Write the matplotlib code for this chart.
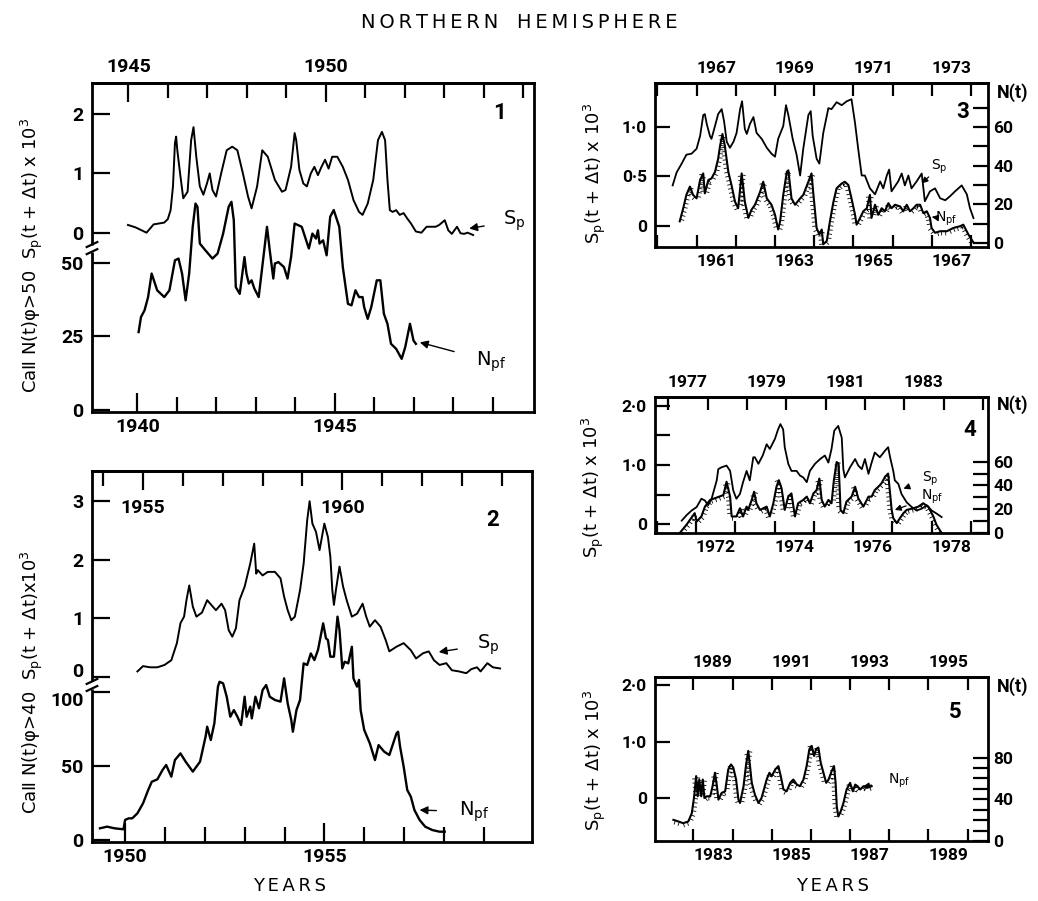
import matplotlib
matplotlib.use('Agg')
import matplotlib.pyplot as plt
import matplotlib.patheffects as pe
import matplotlib.transforms as mtrans

plt.rcParams['font.family'] = ['DejaVu Sans']
plt.rcParams['mathtext.default'] = 'regular'

# ---------------- data (year, value) ----------------
P1_SP = [(1939.76, 0.13), (1939.95, 0.09), (1940.23, 0.00), (1940.41, 0.14), (1940.68, 0.17), (1940.77, 0.23),
         (1940.84, 0.38), (1940.90, 0.78), (1940.95, 1.51), (1940.98, 1.62), (1941.01, 1.39), (1941.08, 1.00),
         (1941.16, 0.58), (1941.27, 0.69), (1941.36, 1.56), (1941.42, 1.78), (1941.49, 1.28), (1941.58, 0.78),
         (1941.67, 0.64), (1941.76, 0.83), (1941.83, 1.00), (1941.90, 0.72), (1941.99, 0.61), (1942.12, 1.00),
         (1942.26, 1.39), (1942.40, 1.45), (1942.53, 1.39), (1942.67, 1.00), (1942.80, 0.61), (1942.89, 0.41),
         (1943.03, 0.78), (1943.16, 1.39), (1943.30, 1.28), (1943.48, 0.89), (1943.66, 0.69), (1943.75, 0.72),
         (1943.89, 1.11), (1943.98, 1.68), (1944.02, 1.56), (1944.10, 1.06), (1944.20, 0.83), (1944.29, 0.78),
         (1944.39, 1.00), (1944.48, 1.11), (1944.57, 0.97), (1944.66, 1.11), (1944.75, 1.23), (1944.84, 1.08),
         (1944.93, 1.28), (1945.06, 1.28), (1945.20, 1.11), (1945.33, 0.89), (1945.47, 0.55), (1945.61, 0.35),
         (1945.70, 0.30), (1945.83, 0.49), (1945.97, 0.89), (1946.09, 1.56), (1946.19, 1.70), (1946.27, 1.56),
         (1946.33, 0.89), (1946.39, 0.38), (1946.46, 0.35), (1946.55, 0.38), (1946.64, 0.30), (1946.74, 0.33),
         (1946.83, 0.24), (1946.92, 0.16), (1947.05, 0.02), (1947.19, 0.00), (1947.32, 0.10), (1947.46, 0.10),
         (1947.55, 0.10), (1947.64, 0.13), (1947.78, 0.21), (1947.87, 0.04), (1947.96, -0.02), (1948.09, 0.10),
         (1948.18, -0.01), (1948.27, -0.02), (1948.36, 0.00), (1948.50, -0.04)]
P1_N = [(1940.03, 26.5), (1940.09, 31.6), (1940.18, 33.9), (1940.27, 38.4), (1940.36, 46.4), (1940.50, 40.7),
        (1940.68, 38.4), (1940.81, 40.7), (1940.95, 50.9), (1941.04, 51.5), (1941.13, 46.4), (1941.22, 37.3),
        (1941.31, 46.4), (1941.40, 62.3), (1941.47, 70.2), (1941.52, 69.1), (1941.58, 56.6), (1941.72, 54.3),
        (1941.90, 51.5), (1942.03, 53.2), (1942.17, 60.0), (1942.31, 69.1), (1942.38, 70.8), (1942.44, 64.5),
        (1942.49, 41.8), (1942.59, 39.5), (1942.71, 52.0), (1942.76, 46.4), (1942.82, 43.0), (1942.89, 44.1),
        (1942.96, 41.3), (1943.07, 38.4), (1943.16, 48.6), (1943.28, 62.3), (1943.35, 54.3), (1943.44, 44.7),
        (1943.48, 49.8), (1943.57, 50.3), (1943.71, 48.6), (1943.80, 44.7), (1943.89, 52.0), (1943.98, 63.4),
        (1944.16, 62.3), (1944.34, 54.9), (1944.43, 60.0), (1944.52, 58.3), (1944.57, 61.1), (1944.61, 56.6),
        (1944.70, 57.7), (1944.79, 52.6), (1944.88, 65.7), (1944.97, 68.0), (1945.11, 62.3), (1945.20, 48.6),
        (1945.33, 36.1), (1945.42, 35.6), (1945.52, 40.7), (1945.61, 38.4), (1945.70, 38.4), (1945.74, 35.0),
        (1945.83, 31.0), (1945.92, 35.0), (1946.06, 44.1), (1946.15, 44.1), (1946.24, 32.7), (1946.33, 29.3),
        (1946.42, 22.5), (1946.55, 20.8), (1946.69, 17.4), (1946.78, 21.4), (1946.90, 29.3), (1946.99, 23.6),
        (1947.05, 22.5)]

P2_SP = [(1950.31, 0.10), (1950.45, 0.19), (1950.63, 0.17), (1950.81, 0.17), (1950.99, 0.21), (1951.16, 0.29),
         (1951.30, 0.58), (1951.39, 0.92), (1951.48, 1.03), (1951.54, 1.31), (1951.61, 1.56), (1951.70, 1.20),
         (1951.79, 1.03), (1951.93, 1.10), (1952.06, 1.31), (1952.20, 1.20), (1952.28, 1.14), (1952.42, 1.25),
         (1952.51, 1.14), (1952.60, 0.80), (1952.69, 0.69), (1952.78, 0.83), (1952.87, 1.31), (1953.00, 1.54),
         (1953.14, 1.93), (1953.24, 2.27), (1953.29, 1.76), (1953.33, 1.82), (1953.45, 1.73), (1953.58, 1.79),
         (1953.76, 1.79), (1953.90, 1.68), (1953.99, 1.37), (1954.08, 1.14), (1954.17, 0.97), (1954.26, 1.03),
         (1954.39, 1.48), (1954.48, 1.93), (1954.57, 2.67), (1954.63, 2.99), (1954.70, 2.61), (1954.79, 2.47),
         (1954.88, 2.16), (1955.00, 2.61), (1955.09, 2.38), (1955.15, 2.05), (1955.20, 1.48), (1955.24, 1.23),
         (1955.29, 1.48), (1955.38, 1.88), (1955.47, 1.54), (1955.56, 1.31), (1955.69, 1.03), (1955.82, 1.08),
         (1955.96, 1.25), (1956.05, 1.03), (1956.14, 0.86), (1956.27, 0.97), (1956.41, 0.86), (1956.54, 0.63),
         (1956.63, 0.44), (1956.81, 0.52), (1956.99, 0.58), (1957.17, 0.46), (1957.30, 0.32), (1957.48, 0.41),
         (1957.62, 0.44), (1957.75, 0.29), (1957.89, 0.21), (1958.06, 0.24), (1958.20, 0.12), (1958.38, 0.10),
         (1958.56, 0.07), (1958.69, 0.14), (1958.83, 0.17), (1958.92, 0.10), (1959.09, 0.24), (1959.23, 0.17),
         (1959.41, 0.15)]
P2_N = [(1949.37, 7.9), (1949.55, 9.0), (1949.73, 7.9), (1949.96, 7.2), (1950.00, 13.5), (1950.09, 14.6),
        (1950.18, 14.6), (1950.31, 18.0), (1950.45, 24.7), (1950.58, 33.7), (1950.67, 39.3), (1950.81, 40.9),
        (1950.94, 47.2), (1951.03, 50.6), (1951.16, 42.7), (1951.25, 53.9), (1951.39, 58.4), (1951.52, 52.8),
        (1951.70, 46.1), (1951.88, 52.8), (1952.02, 69.7), (1952.06, 76.4), (1952.15, 67.4), (1952.24, 78.7),
        (1952.33, 103.4), (1952.37, 106.7), (1952.46, 105.6), (1952.55, 96.6), (1952.64, 83.1), (1952.73, 87.6),
        (1952.82, 83.1), (1952.91, 77.5), (1953.00, 96.6), (1953.05, 83.1), (1953.14, 89.9), (1953.18, 82.0),
        (1953.27, 96.6), (1953.36, 88.8), (1953.45, 101.1), (1953.54, 104.5), (1953.63, 96.6), (1953.76, 94.4),
        (1953.90, 93.3), (1953.99, 109.0), (1954.08, 92.1), (1954.17, 80.9), (1954.21, 73.0), (1954.30, 87.6),
        (1954.39, 94.4), (1954.48, 119.1), (1954.57, 118.0), (1954.66, 125.8), (1954.75, 121.3), (1954.84, 128.1),
        (1954.97, 146.1), (1955.04, 136.0), (1955.09, 134.8), (1955.15, 123.6), (1955.24, 123.6), (1955.33, 150.6),
        (1955.38, 141.6), (1955.45, 115.7), (1955.51, 120.2), (1955.60, 119.1), (1955.69, 130.3), (1955.73, 109.0),
        (1955.82, 103.4), (1955.87, 107.9), (1955.91, 87.6), (1956.00, 74.2), (1956.14, 65.2), (1956.27, 53.9),
        (1956.36, 64.0), (1956.50, 59.6), (1956.63, 57.3), (1956.81, 71.9), (1956.85, 73.0), (1956.90, 62.9),
        (1956.99, 49.4), (1957.08, 33.7), (1957.17, 29.2), (1957.26, 20.2), (1957.39, 13.5), (1957.53, 9.0),
        (1957.71, 6.7), (1957.89, 5.6), (1958.02, 5.6)]

P3_SP = [(1960.39, 0.41), (1960.49, 0.54), (1960.62, 0.63), (1960.74, 0.72), (1960.87, 0.73), (1961.00, 0.78),
         (1961.09, 0.91), (1961.17, 1.12), (1961.21, 1.13), (1961.26, 1.03), (1961.34, 0.91), (1961.38, 0.88),
         (1961.47, 1.01), (1961.55, 1.13), (1961.64, 1.18), (1961.70, 1.06), (1961.77, 0.85), (1961.85, 0.79),
         (1961.94, 0.85), (1962.02, 0.94), (1962.11, 1.18), (1962.16, 1.26), (1962.23, 0.98), (1962.28, 0.93),
         (1962.36, 1.03), (1962.45, 1.10), (1962.53, 0.94), (1962.66, 0.88), (1962.79, 0.79), (1962.91, 0.73),
         (1963.00, 0.70), (1963.08, 0.88), (1963.21, 1.01), (1963.28, 1.22), (1963.34, 1.12), (1963.45, 0.88),
         (1963.55, 0.72), (1963.64, 0.51), (1963.72, 0.78), (1963.85, 1.12), (1963.91, 1.16), (1963.96, 0.91),
         (1964.06, 0.68), (1964.13, 0.63), (1964.23, 0.94), (1964.36, 1.19), (1964.44, 1.18), (1964.57, 1.25),
         (1964.70, 1.22), (1964.83, 1.26), (1964.95, 1.28), (1965.04, 1.04), (1965.12, 0.78), (1965.21, 0.51),
         (1965.29, 0.51), (1965.42, 0.38), (1965.55, 0.32), (1965.68, 0.45), (1965.76, 0.38), (1965.85, 0.51),
         (1965.91, 0.57), (1965.97, 0.35), (1966.14, 0.45), (1966.23, 0.53), (1966.31, 0.41), (1966.40, 0.51),
         (1966.48, 0.38), (1966.61, 0.45), (1966.74, 0.53), (1966.82, 0.25), (1966.95, 0.35), (1967.08, 0.38),
         (1967.21, 0.28), (1967.34, 0.26), (1967.46, 0.30), (1967.59, 0.35), (1967.76, 0.41), (1967.89, 0.32),
         (1967.97, 0.18), (1968.06, 0.08)]
P3_N = [(1960.57, 11.2), (1960.66, 18.0), (1960.74, 24.9), (1960.83, 29.2), (1960.91, 24.9), (1961.00, 23.1),
        (1961.09, 32.6), (1961.17, 36.0), (1961.21, 25.7), (1961.30, 32.6), (1961.38, 33.4), (1961.47, 36.8),
        (1961.55, 43.6), (1961.60, 50.4), (1961.66, 56.4), (1961.72, 50.4), (1961.81, 36.8), (1961.89, 30.0),
        (1961.98, 21.4), (1962.06, 18.0), (1962.15, 36.0), (1962.23, 21.4), (1962.32, 13.0), (1962.40, 17.2),
        (1962.49, 19.8), (1962.62, 26.5), (1962.70, 31.7), (1962.79, 23.1), (1962.91, 19.8), (1963.00, 14.6),
        (1963.08, 7.0), (1963.13, 11.2), (1963.21, 24.9), (1963.30, 36.8), (1963.34, 37.6), (1963.42, 23.1),
        (1963.51, 19.8), (1963.64, 23.1), (1963.72, 24.9), (1963.85, 31.7), (1963.93, 36.0), (1963.98, 24.9),
        (1964.06, 7.8), (1964.13, 4.4), (1964.19, 7.0), (1964.23, -0.7), (1964.32, 1.1), (1964.40, 11.2),
        (1964.49, 21.4), (1964.57, 28.3), (1964.70, 30.8), (1964.78, 31.7), (1964.87, 30.0), (1964.95, 23.1),
        (1965.04, 14.6), (1965.08, 9.5), (1965.17, 13.0), (1965.25, 16.4), (1965.34, 18.0), (1965.42, 24.9),
        (1965.46, 13.0), (1965.55, 19.8), (1965.63, 14.6), (1965.72, 18.0), (1965.80, 16.4), (1965.89, 20.6),
        (1965.97, 18.0), (1966.06, 19.8), (1966.19, 18.9), (1966.27, 16.4), (1966.36, 19.8), (1966.44, 16.4),
        (1966.53, 18.0), (1966.61, 19.8), (1966.70, 19.8), (1966.78, 15.5), (1966.87, 16.4), (1966.95, 13.0),
        (1966.99, 7.8), (1967.08, 5.3), (1967.21, 6.1), (1967.38, 6.1), (1967.55, 7.8), (1967.72, 8.7),
        (1967.80, 9.5), (1967.93, 4.4), (1968.06, 0.2)]

P4_SP = [(1971.64, 0.06), (1971.76, 0.15), (1971.89, 0.23), (1972.02, 0.29), (1972.14, 0.43), (1972.23, 0.40),
         (1972.31, 0.32), (1972.40, 0.43), (1972.53, 0.74), (1972.57, 0.93), (1972.65, 0.96), (1972.78, 0.99),
         (1972.87, 0.90), (1972.95, 0.57), (1973.03, 0.43), (1973.12, 0.51), (1973.20, 0.71), (1973.29, 0.90),
         (1973.37, 0.74), (1973.46, 1.13), (1973.50, 1.13), (1973.59, 1.02), (1973.70, 1.16), (1973.80, 1.35),
         (1973.88, 1.27), (1974.01, 1.44), (1974.09, 1.60), (1974.15, 1.69), (1974.22, 1.60), (1974.26, 1.30),
         (1974.35, 1.02), (1974.43, 0.90), (1974.56, 0.90), (1974.65, 0.82), (1974.73, 0.79), (1974.82, 0.71),
         (1974.90, 0.90), (1975.03, 1.02), (1975.16, 1.10), (1975.28, 1.16), (1975.37, 1.04), (1975.45, 1.27),
         (1975.52, 1.58), (1975.62, 1.66), (1975.71, 1.46), (1975.75, 0.93), (1975.79, 0.79), (1975.92, 0.96),
         (1976.05, 1.10), (1976.13, 0.99), (1976.22, 0.93), (1976.30, 1.10), (1976.39, 0.85), (1976.47, 1.04),
         (1976.55, 1.21), (1976.68, 1.13), (1976.81, 1.24), (1976.89, 1.30), (1976.94, 1.13), (1977.02, 0.90),
         (1977.06, 0.74), (1977.15, 0.68), (1977.23, 0.51), (1977.36, 0.37), (1977.49, 0.29), (1977.61, 0.23),
         (1977.74, 0.26), (1977.87, 0.32), (1978.00, 0.23), (1978.12, 0.18), (1978.25, 0.12)]
P4_N = [(1971.59, 0.0), (1971.76, 6.9), (1971.97, 16.7), (1972.02, 9.7), (1972.14, 13.9), (1972.23, 22.2),
        (1972.36, 27.8), (1972.48, 29.2), (1972.70, 31.9), (1972.78, 43.1), (1972.87, 30.6), (1972.91, 13.9),
        (1972.95, 13.9), (1973.03, 13.9), (1973.12, 20.8), (1973.20, 13.9), (1973.29, 22.2), (1973.33, 19.4),
        (1973.42, 27.8), (1973.48, 34.7), (1973.54, 25.0), (1973.63, 19.4), (1973.80, 22.2), (1973.88, 13.9),
        (1973.97, 25.0), (1974.05, 38.9), (1974.11, 44.4), (1974.18, 37.5), (1974.26, 19.4), (1974.35, 30.6),
        (1974.43, 33.3), (1974.52, 13.9), (1974.60, 25.0), (1974.73, 27.8), (1974.82, 30.6), (1974.90, 25.0),
        (1974.99, 33.3), (1975.07, 36.1), (1975.14, 45.8), (1975.20, 27.8), (1975.28, 22.2), (1975.37, 27.8),
        (1975.45, 25.0), (1975.51, 44.4), (1975.58, 59.7), (1975.63, 58.3), (1975.68, 19.4), (1975.75, 16.7),
        (1975.83, 26.4), (1975.96, 30.6), (1976.05, 38.9), (1976.13, 29.2), (1976.26, 22.2), (1976.39, 30.6),
        (1976.47, 30.6), (1976.55, 36.1), (1976.64, 38.9), (1976.72, 41.7), (1976.81, 47.2), (1976.89, 50.0),
        (1976.98, 19.4), (1977.02, 12.5), (1977.11, 8.3), (1977.19, 12.5), (1977.28, 16.7), (1977.36, 19.4),
        (1977.53, 20.8), (1977.66, 22.2), (1977.78, 25.0), (1977.91, 22.2), (1978.04, 13.9), (1978.12, 6.9),
        (1978.25, 0.0)]

P5_N = [(1982.49, 20.3), (1982.62, 18.7), (1982.74, 17.1), (1982.87, 18.7), (1982.96, 26.8), (1983.02, 42.9),
        (1983.07, 62.3), (1983.11, 42.9), (1983.15, 59.0), (1983.20, 42.9), (1983.24, 59.0), (1983.28, 41.3),
        (1983.34, 42.9), (1983.43, 42.9), (1983.49, 52.6), (1983.55, 65.5), (1983.60, 52.6), (1983.64, 39.7),
        (1983.72, 46.1), (1983.81, 47.7), (1983.89, 68.7), (1983.96, 73.5), (1984.02, 70.3), (1984.09, 59.0),
        (1984.15, 39.7), (1984.19, 36.5), (1984.28, 52.6), (1984.34, 71.9), (1984.40, 86.5), (1984.45, 70.3),
        (1984.49, 55.8), (1984.57, 44.5), (1984.66, 36.5), (1984.74, 41.3), (1984.87, 59.0), (1984.94, 65.5),
        (1985.00, 62.3), (1985.09, 68.7), (1985.17, 71.9), (1985.23, 62.3), (1985.30, 49.4), (1985.38, 47.7),
        (1985.47, 55.8), (1985.55, 59.0), (1985.64, 54.2), (1985.72, 52.6), (1985.81, 59.0), (1985.89, 71.9),
        (1985.96, 88.1), (1986.02, 91.3), (1986.08, 81.6), (1986.13, 88.1), (1986.19, 89.7), (1986.25, 75.2),
        (1986.32, 65.5), (1986.39, 55.8), (1986.45, 59.0), (1986.53, 67.1), (1986.59, 71.9), (1986.63, 55.8),
        (1986.66, 33.2), (1986.70, 23.5), (1986.76, 28.4), (1986.83, 36.5), (1986.91, 49.4), (1987.00, 55.8),
        (1987.07, 47.7), (1987.13, 54.2), (1987.19, 52.6), (1987.26, 49.4), (1987.34, 52.6), (1987.43, 51.0),
        (1987.55, 52.6)]

# ---------------- layout helpers ----------------
W, H = 1038, 901
fig = plt.figure(figsize=(W / 100, H / 100), dpi=100)
NUMFONT = ['Roboto', 'DejaVu Sans']


def rect(l, r, t, b):
    return [l / W, 1 - b / H, (r - l) / W, (b - t) / H]


def ftext(x, y, s, **kw):
    fig.text(x / W, 1 - y / H, s, **kw)


def unzip(pairs):
    return [p[0] for p in pairs], [p[1] for p in pairs]


SPW = 2.0
TKW = 1.6


def make_axes(r, xlim, sp_lim, n_lim, n_side):
    ax = fig.add_axes(rect(*r))
    axn = ax.twinx()
    ax.set_xlim(*xlim)
    ax.set_ylim(*sp_lim)
    axn.set_ylim(*n_lim)
    for s in ax.spines.values():
        s.set_linewidth(SPW)
    for s in axn.spines.values():
        s.set_visible(False)
    axn.patch.set_visible(False)
    if n_side == 'left':
        axn.yaxis.set_ticks_position('left')
    return ax, axn


def top_axis(ax, off):
    return ax.secondary_xaxis('top', functions=(lambda x, o=off: x + o, lambda x, o=off: x - o))


def axis_break(ax, yb, dy):
    tr = mtrans.blended_transform_factory(ax.transAxes, ax.transData)
    ax.plot([0, 0], [yb - dy, yb + dy], transform=tr, color='white', lw=5, clip_on=False, zorder=10,
            solid_capstyle='butt')
    for s in (-1, 1):
        ax.plot([-0.012, 0.012], [yb + s * dy - dy * 0.7, yb + s * dy + dy * 0.7], transform=tr,
                color='black', lw=1.6, clip_on=False, zorder=11)


LBL = dict(fontweight='bold', fontsize=14, family=NUMFONT)
LBLR = dict(fontweight='bold', fontsize=12.5, family=NUMFONT)

# ---------------- Panel 1 ----------------
ax1, ax1n = make_axes((92, 534, 83, 412), (1938.85, 1950.04), (-3.024, 2.524), (-0.68, 111.2), 'left')
ax1.set_xticks([1940, 1945], labels=['1940', '1945'], **LBL)
ax1.set_xticks(list(range(1940, 1950)), minor=True)
ax1.tick_params(axis='x', which='major', direction='in', length=14, width=TKW, pad=4)
ax1.tick_params(axis='x', which='minor', direction='in', length=11, width=TKW)
ax1.set_yticks([0, 1, 2], labels=['0', '1', '2'], **LBL)
ax1.tick_params(axis='y', direction='in', length=13, width=TKW, pad=6)
ax1n.set_yticks([0, 25, 50], labels=['0', '25', '50'], **LBL)
ax1n.tick_params(axis='y', direction='in', length=13, width=TKW, pad=6)
t1 = top_axis(ax1, 5.23)
t1.set_xticks([1945, 1950], labels=['1945', '1950'], **LBL)
t1.set_xticks(list(range(1945, 1956)), minor=True)
t1.tick_params(axis='x', which='major', direction='in', length=14, width=TKW, pad=5)
t1.tick_params(axis='x', which='minor', direction='in', length=11, width=TKW)
t1.spines['top'].set_linewidth(SPW)
x, y = unzip(P1_SP)
ax1.plot(x, y, color='black', lw=1.4)
x, y = unzip(P1_N)
ax1n.plot(x, y, color='black', lw=1.7)
axis_break(ax1, -0.26, 0.06)
ax1.annotate('S$_p$', xy=(1948.4, 0.07), xytext=(1949.55, 0.2), fontsize=14, ha='center', va='center',
             arrowprops=dict(arrowstyle='-|>', color='black', lw=1.0, mutation_scale=12, shrinkA=12, shrinkB=0))
ax1n.annotate('N$_{pf}$', xy=(1947.15, 23.0), xytext=(1948.95, 16.5), fontsize=14, ha='center', va='center',
              arrowprops=dict(arrowstyle='-|>', color='black', lw=1.0, mutation_scale=12, shrinkA=14, shrinkB=0))
ftext(500, 113, '1', fontsize=16, fontweight='bold', family=NUMFONT, ha='center', va='center')
ftext(32, 255, 'CaⅡ N(t)φ>50  S$_p$(t + Δt) x 10$^3$', rotation=90, fontsize=13, ha='center', va='center')

# ---------------- Panel 2 ----------------
ax2, ax2n = make_axes((92, 532, 471, 842), (1949.17, 1960.21), (-2.796, 3.503), (-1.35, 248.8), 'left')
ax2.set_xticks([1950, 1955], labels=['1950', '1955'], **LBL)
ax2.set_xticks(list(range(1950, 1960)), minor=True)
ax2.tick_params(axis='x', which='major', direction='in', length=14, width=TKW, pad=4)
ax2.tick_params(axis='x', which='minor', direction='in', length=11, width=TKW)
ax2.set_yticks([0, 1, 2, 3], labels=['0', '1', '2', '3'], **LBL)
ax2.tick_params(axis='y', direction='in', length=13, width=TKW, pad=6)
ax2.get_yticklabels()[0].set_verticalalignment('baseline')
ax2n.set_yticks([0, 50, 100], labels=['0', '50', '100'], **LBL)
ax2n.tick_params(axis='y', direction='in', length=13, width=TKW, pad=6)
ax2n.get_yticklabels()[2].set_verticalalignment('top')
t2 = top_axis(ax2, 4.55)
t2.set_xticks([1955, 1960], labels=['1955', '1960'], **LBL)
t2.set_xticks(list(range(1954, 1965)), minor=True)
t2.tick_params(axis='x', which='major', direction='in', length=14, width=TKW, pad=-33)
t2.tick_params(axis='x', which='minor', direction='in', length=11, width=TKW)
t2.spines['top'].set_linewidth(SPW)
x, y = unzip(P2_SP)
ax2.plot(x, y, color='black', lw=1.4)
x, y = unzip(P2_N)
ax2n.plot(x, y, color='black', lw=1.7)
axis_break(ax2, -0.13, 0.06)
ax2.annotate('S$_p$', xy=(1957.87, 0.43), xytext=(1959.1, 0.56), fontsize=14, ha='center', va='center',
             arrowprops=dict(arrowstyle='-|>', color='black', lw=1.0, mutation_scale=12, shrinkA=12, shrinkB=0))
ax2n.annotate('N$_{pf}$', xy=(1957.39, 20.2), xytext=(1958.75, 19.0), fontsize=14, ha='center', va='center',
              arrowprops=dict(arrowstyle='-|>', color='black', lw=1.0, mutation_scale=12, shrinkA=14, shrinkB=0))
ftext(493, 520, '2', fontsize=16, fontweight='bold', family=NUMFONT, ha='center', va='center')
ftext(32, 682, 'CaⅡ N(t)φ>40  S$_p$(t + Δt)x10$^3$', rotation=90, fontsize=13, ha='center', va='center')
ftext(290, 886, 'Y\u2009E\u2009A\u2009R\u2009S', fontsize=13, ha='center', va='center')

# ---------------- right panels ----------------
HATCH = [pe.withTickedStroke(angle=-90, spacing=3.0, length=0.9, linewidth=0.6)]


def right_axes(r, xlim, off, sp_lim, n_lim, bot_years, bot_lab, top_years, top_lab,
               sp_ticks, sp_labels, n_ticks, n_lab_ticks):
    ax, axn = make_axes(r, xlim, sp_lim, n_lim, 'right')
    ax.set_xticks(bot_years, labels=[''] * len(bot_years))
    ax.set_xticks([b + 0.5 for b in bot_lab], labels=[str(b) for b in bot_lab], minor=True, **LBLR)
    ax.tick_params(axis='x', which='major', direction='in', length=9, width=TKW)
    ax.tick_params(axis='x', which='minor', length=0, pad=5)
    t = top_axis(ax, off)
    t.set_xticks(top_years, labels=[''] * len(top_years))
    t.set_xticks([b + 0.5 for b in top_lab], labels=[str(b) for b in top_lab], minor=True, **LBLR)
    t.tick_params(axis='x', which='major', direction='in', length=9, width=TKW)
    t.tick_params(axis='x', which='minor', length=0, pad=5)
    t.spines['top'].set_linewidth(SPW)
    ax.set_yticks(sp_ticks, labels=sp_labels, **LBLR)
    ax.tick_params(axis='y', direction='in', length=11, width=TKW, pad=6)
    axn.set_yticks(n_ticks, labels=[str(v) if v in n_lab_ticks else '' for v in n_ticks], **LBLR)
    axn.tick_params(axis='y', direction='in', length=11, width=TKW, pad=4)
    return ax, axn


# Panel 3
ax3, ax3n = right_axes((655, 988, 83, 247), (1959.94, 1968.43), 6.0, (-0.212, 1.444), (-2.07, 82.8),
                       list(range(1960, 1969)), [1961, 1963, 1965, 1967],
                       list(range(1966, 1975)), [1967, 1969, 1971, 1973],
                       [0, 0.5, 1.0], ['0', '0·5', '1·0'], list(range(0, 80, 10)), [0, 20, 40, 60])
x, y = unzip(P3_SP)
ax3.plot(x, y, color='black', lw=1.3)
x, y = unzip(P3_N)
ax3n.plot(x, y, color='black', lw=1.5, path_effects=HATCH)
ax3.annotate('S$_p$', xy=(1966.74, 0.43), xytext=(1967.2, 0.60), fontsize=10, ha='center', va='center',
             arrowprops=dict(arrowstyle='-|>', color='black', lw=0.9, mutation_scale=9, shrinkA=7, shrinkB=0))
ax3n.annotate('N$_{pf}$', xy=(1967.0, 13.5), xytext=(1967.35, 12.4), fontsize=10, ha='center', va='center',
              arrowprops=dict(arrowstyle='-|>', color='black', lw=0.9, mutation_scale=9, shrinkA=9, shrinkB=0))
ftext(963, 112, '3', fontsize=16, fontweight='bold', family=NUMFONT, ha='center', va='center')
ftext(1013, 93, 'N(t)', fontsize=13, fontweight='bold', family=NUMFONT, ha='center', va='center')
ftext(595, 173, 'S$_p$(t + Δt) x 10$^3$', rotation=90, fontsize=13, ha='center', va='center')

# Panel 4
ax4, ax4n = right_axes((655, 988, 397, 533), (1970.96, 1979.43), 5.7, (-0.149, 2.148), (0, 114.4),
                       list(range(1971, 1980)), [1972, 1974, 1976, 1978],
                       list(range(1977, 1986)), [1977, 1979, 1981, 1983],
                       [0, 0.5, 1.0, 1.5, 2.0], ['0', '', '1·0', '', '2·0'], list(range(0, 70, 10)),
                       [0, 20, 40, 60])
x, y = unzip(P4_SP)
ax4.plot(x, y, color='black', lw=1.3)
x, y = unzip(P4_N)
ax4n.plot(x, y, color='black', lw=1.5, path_effects=HATCH)
ax4.annotate('S$_p$', xy=(1977.28, 0.60), xytext=(1977.95, 0.77), fontsize=10, ha='center', va='center',
             arrowprops=dict(arrowstyle='-|>', color='black', lw=0.9, mutation_scale=9, shrinkA=7, shrinkB=0))
ax4n.annotate('N$_{pf}$', xy=(1977.06, 19.4), xytext=(1978.0, 30.6), fontsize=10, ha='center', va='center',
              arrowprops=dict(arrowstyle='-|>', color='black', lw=0.9, mutation_scale=9, shrinkA=9, shrinkB=0))
ftext(970, 430, '4', fontsize=16, fontweight='bold', family=NUMFONT, ha='center', va='center')
ftext(1013, 405, 'N(t)', fontsize=13, fontweight='bold', family=NUMFONT, ha='center', va='center')
ftext(593, 487, 'S$_p$(t + Δt) x 10$^3$', rotation=90, fontsize=13, ha='center', va='center')

# Panel 5
ax5, ax5n = right_axes((655, 988, 677, 841), (1982.02, 1990.52), 6.0, (-0.764, 2.149), (0, 157.4),
                       list(range(1983, 1991)), [1983, 1985, 1987, 1989],
                       list(range(1988, 1997)), [1989, 1991, 1993, 1995],
                       [0, 1.0, 2.0], ['0', '1·0', '2·0'], list(range(0, 90, 10)), [0, 40, 80])
x, y = unzip(P5_N)
ax5n.plot(x, y, color='black', lw=1.5, path_effects=HATCH)
ax5n.annotate('N$_{pf}$', xy=(1987.34, 52.6), xytext=(1988.25, 57.4), fontsize=10, ha='center', va='center',
              arrowprops=dict(arrowstyle='-|>', color='black', lw=0.9, mutation_scale=8, shrinkA=10, shrinkB=0))
ftext(955, 712, '5', fontsize=16, fontweight='bold', family=NUMFONT, ha='center', va='center')
ftext(1013, 687, 'N(t)', fontsize=13, fontweight='bold', family=NUMFONT, ha='center', va='center')
ftext(595, 760, 'S$_p$(t + Δt) x 10$^3$', rotation=90, fontsize=13, ha='center', va='center')
ftext(833, 886, 'Y\u2009E\u2009A\u2009R\u2009S', fontsize=13, ha='center', va='center')

# title
ftext(519, 22, 'N\u2009O\u2009R\u2009T\u2009H\u2009E\u2009R\u2009N   H\u2009E\u2009M\u2009I\u2009S\u2009P\u2009H\u2009E\u2009R\u2009E',
      fontsize=14, ha='center', va='center')

fig.savefig('out.png', dpi=100)
